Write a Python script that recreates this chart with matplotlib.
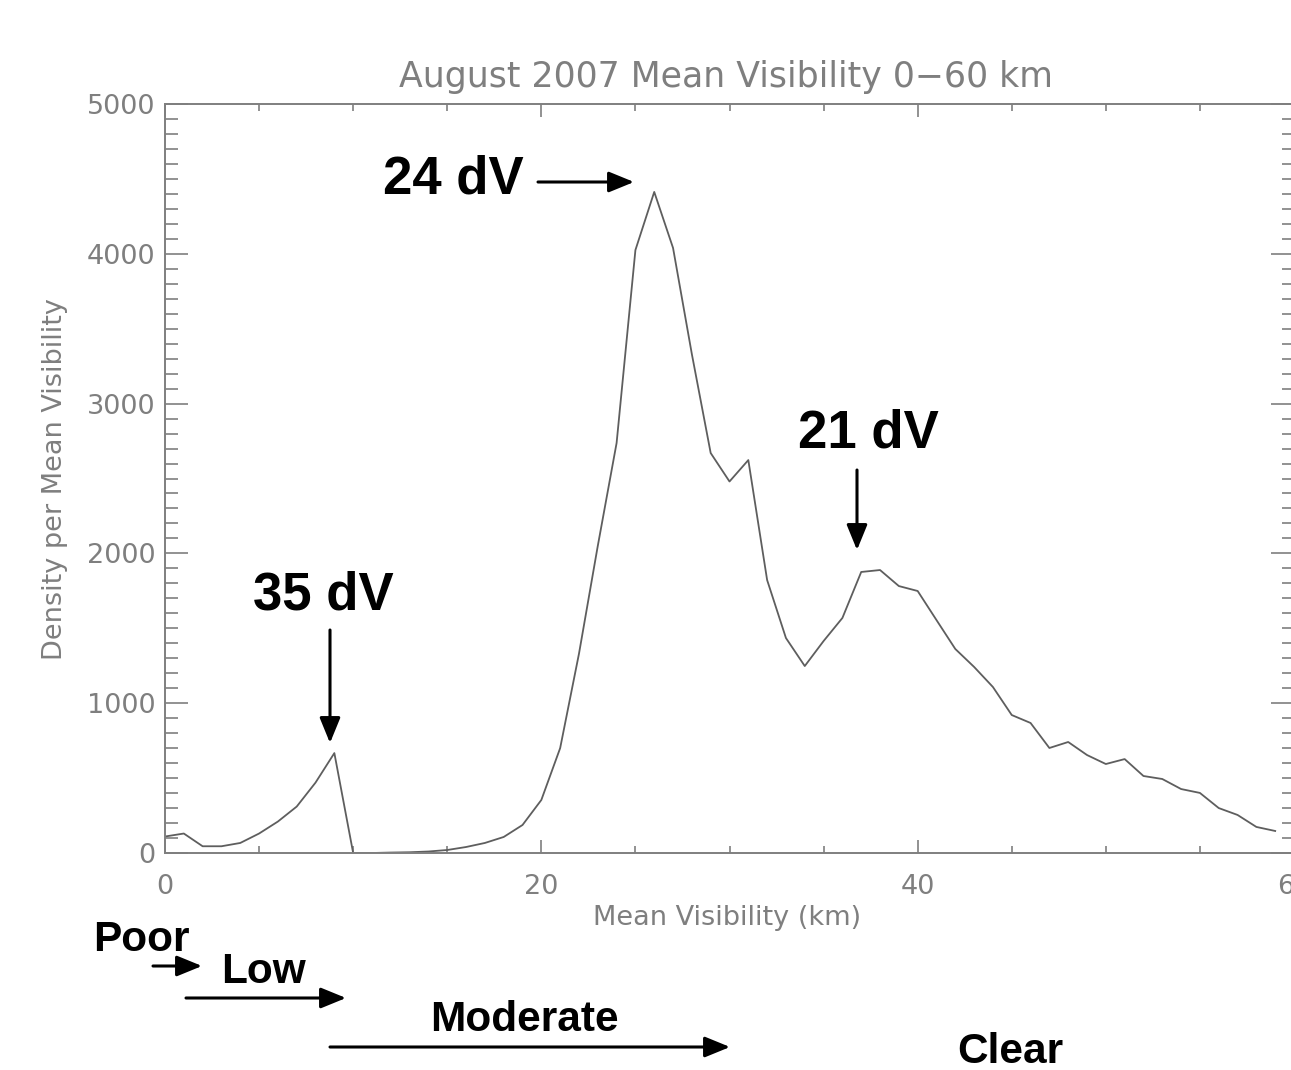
import matplotlib
matplotlib.use("Agg")
import matplotlib.pyplot as plt
from matplotlib.ticker import MultipleLocator, FixedLocator

# ---- data ----
visibility_km = list(range(0, 60))
density = [110, 130, 45, 45, 67, 130, 210, 310, 470, 667,
           0, 0, 3, 5, 10, 20, 40, 67, 107, 187,
           354, 700, 1330, 2050, 2737, 4025, 4413, 4039, 3330, 2670,
           2480, 2623, 1822, 1435, 1248, 1415, 1569, 1876, 1889, 1782,
           1749, 1555, 1362, 1242, 1108, 921, 868, 701, 741, 654,
           594, 627, 514, 494, 427, 401, 300, 254, 174, 147]
x_major_ticks = [0, 20, 40, 60]
x_tick_labels = ["0", "20", "40", "60"]
y_major_ticks = [0, 1000, 2000, 3000, 4000, 5000]
y_tick_labels = ["0", "1000", "2000", "3000", "4000", "5000"]
title = "August 2007 Mean Visibility 0\u221260 km"
xlabel = "Mean Visibility (km)"
ylabel = "Density per Mean Visibility"
peak_labels = ["24 dV", "21 dV", "35 dV"]
class_labels = ["Poor", "Low", "Moderate", "Clear"]

W, H = 1291, 1070
fig = plt.figure(figsize=(W / 100, H / 100), dpi=100)
fig.patch.set_facecolor("white")

def fx(px):
    return px / W

def fy(py):
    return 1 - py / H

ax_left, ax_right, ax_top, ax_bot = 165, 1294, 104, 853
ax = fig.add_axes([fx(ax_left), fy(ax_bot), fx(ax_right - ax_left), (ax_bot - ax_top) / H])

gray = "#7f7f7f"
ax.plot(visibility_km, density, color="#5e5e5e", lw=1.3)
ax.set_xlim(0, 60)
ax.set_ylim(0, 5000)

for s in ax.spines.values():
    s.set_color(gray)
    s.set_linewidth(1.4)

ax.xaxis.set_major_locator(FixedLocator(x_major_ticks))
ax.set_xticklabels(x_tick_labels)
ax.xaxis.set_minor_locator(MultipleLocator(5))
ax.yaxis.set_major_locator(FixedLocator(y_major_ticks))
ax.set_yticklabels(y_tick_labels)
ax.yaxis.set_minor_locator(MultipleLocator(100))

ax.tick_params(axis="both", which="both", direction="in", top=True, right=True,
               color=gray, labelcolor=gray, width=1.2)
ax.tick_params(axis="x", which="major", length=9.5, pad=15, labelsize=19.5)
ax.tick_params(axis="x", which="minor", length=5)
ax.tick_params(axis="y", which="major", length=16.5, pad=7, labelsize=19.5)
ax.tick_params(axis="y", which="minor", length=9)

fig.text(fx(726), fy(77), title, ha="center", va="center", color=gray, fontsize=25)
fig.text(fx(727), fy(918), xlabel, ha="center", va="center", color=gray, fontsize=19.5)
fig.text(fx(55), fy(479), ylabel, ha="center", va="center", color=gray, fontsize=19.5,
         rotation=90)

bold = dict(family=["Liberation Sans", "DejaVu Sans"], weight="bold", color="black")

def arrow(x0, y0, x1, y1):
    fig.add_artist(matplotlib.patches.FancyArrowPatch(
        (fx(x0), fy(y0)), (fx(x1), fy(y1)), transform=fig.transFigure,
        arrowstyle="-|>,head_length=1.1,head_width=0.45", mutation_scale=14,
        color="black", lw=2.2, shrinkA=0, shrinkB=0))

fig.text(fx(453), fy(179), peak_labels[0], ha="center", va="center", fontsize=38, **bold)
arrow(538, 182, 634, 182)
fig.text(fx(868), fy(434), peak_labels[1], ha="center", va="center", fontsize=38, **bold)
arrow(857, 470, 857, 550)
fig.text(fx(323), fy(596), peak_labels[2], ha="center", va="center", fontsize=38, **bold)
arrow(330, 630, 330, 743)

fig.text(fx(141), fy(940), class_labels[0], ha="center", va="center", fontsize=30.5, **bold)
arrow(153, 966, 202, 966)
fig.text(fx(263), fy(972), class_labels[1], ha="center", va="center", fontsize=30.5, **bold)
arrow(186, 998, 346, 998)
fig.text(fx(524), fy(1020), class_labels[2], ha="center", va="center", fontsize=30.5, **bold)
arrow(330, 1047, 730, 1047)
fig.text(fx(1010), fy(1052), class_labels[3], ha="center", va="center", fontsize=30.5, **bold)

fig.savefig("out.png", dpi=100)
